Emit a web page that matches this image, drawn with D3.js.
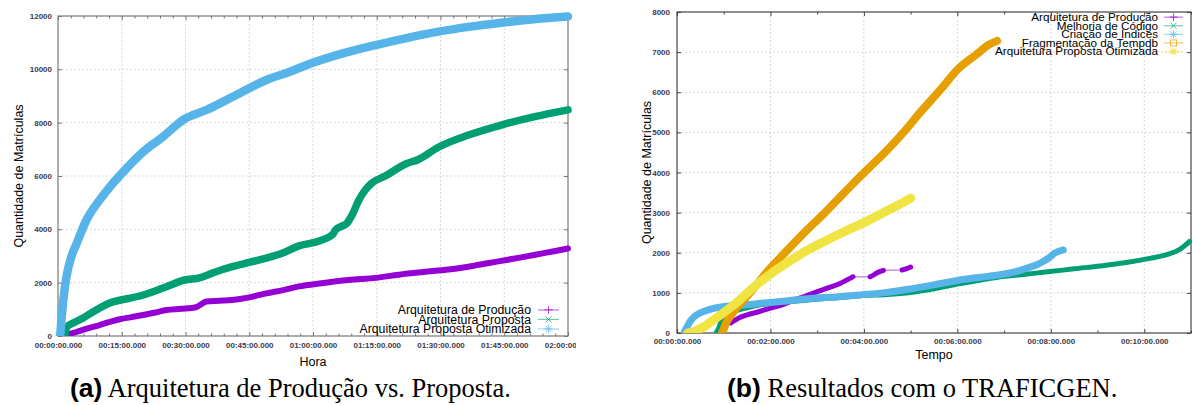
<!DOCTYPE html>
<html><head><meta charset="utf-8">
<script src="https://cdn.jsdelivr.net/npm/d3@7"></script>
<style>body{margin:0;background:#fff}svg{display:block}</style>
</head><body>
<svg id="c" width="1192" height="405"></svg>
<script>
// ---------- Panel (a): time in minutes ----------
const aXTicks = [0, 15, 30, 45, 60, 75, 90, 105, 120];
const aXTickLabels = ["00:00:00.000","00:15:00.000","00:30:00.000","00:45:00.000","01:00:00.000","01:15:00.000","01:30:00.000","01:45:00.000","02:00:00.000"];
const aYTicks = [0, 2000, 4000, 6000, 8000, 10000, 12000];
const aSeriesNames = ["Arquitetura de Produção", "Arquitetura Proposta", "Arquitetura Proposta Otimizada"];
const aProducao = [[1.6,0],[2.5,60],[4.5,160],[7,290],[9.8,412],[12,520],[14.8,637],[17,700],[20,787],[23,880],[25.5,975],[29,1020],[32.5,1080],[34.9,1290],[38,1320],[41,1350],[45,1450],[49,1600],[53,1720],[56.7,1860],[62,1980],[68.4,2100],[74.8,2180],[80.2,2300],[86,2400],[91.9,2490],[98,2640],[103.6,2800],[109,2950],[114,3100],[120,3280]];
const aProposta = [[1.6,0],[2.1,340],[4,520],[5.9,675],[8,880],[9.8,1050],[12,1230],[14.8,1350],[17,1420],[20,1537],[23,1700],[25.5,1850],[29.8,2100],[33.3,2180],[37.2,2412],[41,2600],[45,2760],[49,2920],[52.7,3100],[56.7,3380],[60,3500],[64.5,3790],[65.3,3975],[66.5,4100],[68,4230],[69.2,4540],[70.8,5100],[72.3,5475],[73.9,5740],[77,6000],[81.8,6450],[84.8,6620],[89.5,7080],[96.6,7537],[104.3,7912],[112.2,8225],[120,8480]];
const aOtimizada = [[0.5,0],[1.25,1350],[2,2225],[3,2900],[4.4,3475],[6.7,4350],[9.8,5100],[12.2,5590],[16.2,6300],[20,6900],[24.6,7460],[29.8,8140],[34.9,8475],[41,8960],[49,9600],[54.4,9900],[59.8,10237],[67,10600],[74.8,10912],[82,11170],[89.5,11412],[97,11600],[104.3,11750],[112,11880],[120,11980]];

// ---------- Panel (b): time in seconds ----------
const bXTicks = [0, 120, 240, 360, 480, 600];
const bXTickLabels = ["00:00:00.000","00:02:00.000","00:04:00.000","00:06:00.000","00:08:00.000","00:10:00.000"];
const bYTicks = [0, 1000, 2000, 3000, 4000, 5000, 6000, 7000, 8000];
const bSeriesNames = ["Arquitetura de Produção", "Melhoria de Código", "Criação de Índices", "Fragmentação da Tempdb", "Arquitetura Proposta Otimizada"];
const bProducao = [[69,250],[80,380],[90,450],[105,530],[120,620],[135,700],[150,820],[165,920],[180,1030],[195,1130],[210,1240],[218,1320],[226,1400],[248,1400],[251,1430],[256,1490],[262,1540],[265,1560],[289,1570],[294,1600],[300,1640]];
const bMelhoria = [[50,0],[53,100],[56,250],[63,400],[70,500],[78,570],[90,630],[107,700],[140,770],[172,830],[205,880],[236,930],[270,960],[300,1010],[330,1100],[360,1220],[390,1320],[415,1400],[450,1470],[479,1530],[510,1600],[543,1670],[575,1750],[607,1860],[630,1960],[645,2080],[658,2280]];
const bCriacao = [[9,0],[12,120],[18,320],[25,450],[35,540],[48,620],[65,670],[80,690],[108,740],[140,800],[172,860],[205,900],[236,950],[265,1000],[300,1100],[330,1200],[360,1310],[390,1390],[415,1450],[435,1530],[450,1620],[462,1700],[470,1780],[478,1880],[485,1990],[496,2070]];
const bFragmentacao = [[58,0],[60,100],[63,250],[67,380],[71,490],[80,700],[100,1150],[114,1490],[140,2030],[167,2570],[190,3000],[206,3320],[225,3700],[240,3990],[270,4560],[290,4980],[312,5490],[340,6100],[360,6560],[385,6950],[400,7180],[411,7280]];
const bOtimizada = [[14,0],[22,40],[35,160],[45,300],[56,450],[67,610],[78,780],[99,1150],[120,1470],[142,1760],[160,1980],[184,2230],[210,2480],[240,2750],[270,3050],[290,3250],[300,3360]];

const svg = d3.select('#c');
svg.append('rect').attr('width',1192).attr('height',405).attr('fill','#fff');

const COL = {purple:'#9400d3', green:'#009e73', blue:'#56b4e9', orange:'#e69f00', yellow:'#f0e442'};
const TICKFONT = {family:'Liberation Sans, Arial, sans-serif', size:'8px', weight:'bold', fill:'#3a3a4c'};

function marker(g, type, color, cx, cy) {
  const p = g.append('g').attr('transform', `translate(${cx},${cy})`);
  if (type === 'plus') p.append('path').attr('d','M-4,0H4M0,-4V4').attr('stroke',color).attr('stroke-width',1);
  if (type === 'cross') p.append('path').attr('d','M-3,-3L3,3M-3,3L3,-3').attr('stroke',color).attr('stroke-width',1);
  if (type === 'star') p.append('path').attr('d','M-4,0H4M0,-4V4M-3,-3L3,3M-3,3L3,-3').attr('stroke',color).attr('stroke-width',1);
  if (type === 'square') p.append('rect').attr('x',-3).attr('y',-3).attr('width',6).attr('height',6).attr('fill','none').attr('stroke',color).attr('stroke-width',1);
  if (type === 'fsquare') p.append('rect').attr('x',-3).attr('y',-3).attr('width',6).attr('height',6).attr('fill',color);
}

function panel(o) {
  const g = svg.append('g');
  const x = d3.scaleLinear().domain(o.xDomain).range([o.x0, o.x1]);
  const y = d3.scaleLinear().domain(o.yDomain).range([o.y1, o.y0]);

  // grid
  g.append('g').selectAll('line').data(o.xTicks.filter(v => x(v) > o.x0 + 1 && x(v) < o.x1 - 1)).join('line')
    .attr('x1', d => x(d)).attr('x2', d => x(d)).attr('y1', o.y0).attr('y2', o.y1)
    .attr('stroke', '#d8d8d8').attr('stroke-dasharray', '2,2').attr('stroke-width', 1);
  g.append('g').selectAll('line').data(o.yTicks.filter(v => y(v) > o.y0 + 1 && y(v) < o.y1 - 1)).join('line')
    .attr('y1', d => y(d)).attr('y2', d => y(d)).attr('x1', o.x0).attr('x2', o.x1)
    .attr('stroke', '#d8d8d8').attr('stroke-dasharray', '2,2').attr('stroke-width', 1);

  // ticks (inward, mirrored)
  const tickAxes = [
    [d3.axisBottom(x).tickValues(o.xTicks).tickSize(-4), `translate(0,${o.y1})`],
    [d3.axisTop(x).tickValues(o.xTicks).tickSize(-4), `translate(0,${o.y0})`],
    [d3.axisBottom(x).tickValues(o.xMinor).tickSize(-2.5), `translate(0,${o.y1})`],
    [d3.axisTop(x).tickValues(o.xMinor).tickSize(-2.5), `translate(0,${o.y0})`],
    [d3.axisLeft(y).tickValues(o.yTicks).tickSize(-4), `translate(${o.x0},0)`],
    [d3.axisRight(y).tickValues(o.yTicks).tickSize(-4), `translate(${o.x1},0)`]
  ];
  tickAxes.forEach(([ax, tr]) => {
    const a = g.append('g').attr('transform', tr).call(ax.tickFormat(''));
    a.select('.domain').remove();
    a.selectAll('line').attr('stroke', o.axisColor);
  });

  // tick labels
  const xl = g.append('g').attr('transform', `translate(0,${o.y1})`)
    .call(d3.axisBottom(x).tickValues(o.xTicks).tickSize(0).tickPadding(o.xPad).tickFormat((d, i) => o.xLabels[i]));
  if (o.clipX) {
    const lid = 'labclip' + o.id;
    svg.append('clipPath').attr('id', lid).append('rect').attr('x', 0).attr('y', -10).attr('width', o.clipX).attr('height', 40);
    xl.attr('clip-path', `url(#${lid})`);
  }
  const yl = g.append('g').attr('transform', `translate(${o.x0},0)`)
    .call(d3.axisLeft(y).tickValues(o.yTicks).tickSize(0).tickPadding(o.yPad).tickFormat(d3.format('d')));
  [xl, yl].forEach(a => {
    a.select('.domain').remove();
    a.attr('font-family', null).attr('font-size', null);
    a.selectAll('text').attr('font-family', TICKFONT.family).attr('font-size', TICKFONT.size)
      .attr('font-weight', TICKFONT.weight).attr('fill', TICKFONT.fill);
  });

  // border
  g.append('rect').attr('x', o.x0).attr('y', o.y0).attr('width', o.x1 - o.x0).attr('height', o.y1 - o.y0)
    .attr('fill', 'none').attr('stroke', o.axisColor).attr('stroke-width', 1.2);

  // series
  const clipId = 'serclip' + o.id;
  svg.append('clipPath').attr('id', clipId).append('rect')
    .attr('x', o.x0 - 6).attr('y', o.y0 - 6).attr('width', o.x1 - o.x0 + 12).attr('height', o.y1 - o.y0 + 6);
  const sg = g.append('g').attr('clip-path', `url(#${clipId})`);
  const line = d3.line().x(d => x(d[0])).y(d => y(d[1])).curve(d3.curveMonotoneX);
  o.series.forEach(s => {
    if (s.gap) {
      sg.append('path').attr('d', line(s.data)).attr('fill', 'none').attr('stroke', s.color)
        .attr('stroke-opacity', 0.55).attr('stroke-width', 1.2);
      let seg = [s.data[0]];
      const segs = [];
      for (let i = 1; i < s.data.length; i++) {
        if (s.data[i][0] - s.data[i - 1][0] > s.gap) { segs.push(seg); seg = [s.data[i]]; }
        else seg.push(s.data[i]);
      }
      segs.push(seg);
      segs.forEach(sgm => {
        sg.append('path').attr('d', sgm.length > 1 ? line(sgm) : `M${x(sgm[0][0])},${y(sgm[0][1])}l0,0`)
          .attr('fill', 'none').attr('stroke', s.color).attr('stroke-width', s.width)
          .attr('stroke-linecap', 'round').attr('stroke-linejoin', 'round');
      });
    } else {
      sg.append('path').attr('d', line(s.data)).attr('fill', 'none').attr('stroke', s.color)
        .attr('stroke-width', s.width).attr('stroke-linecap', 'round').attr('stroke-linejoin', 'round');
    }
  });

  // legend
  const lg = g.append('g');
  o.series.forEach((s, i) => {
    const yy = o.legY + i * o.legStep;
    lg.append('text').attr('x', o.legX).attr('y', yy).attr('text-anchor', 'end')
      .attr('font-family', 'Liberation Sans, Arial, sans-serif').attr('font-size', o.legSize).attr('fill', '#000')
      .text(s.name);
    const ly = yy - o.legSize * 0.33;
    lg.append('line').attr('x1', o.legX + o.sampleGap).attr('x2', o.legX + o.sampleGap + o.sampleLen)
      .attr('y1', ly).attr('y2', ly).attr('stroke', s.color).attr('stroke-opacity', 0.55).attr('stroke-width', 1.2);
    marker(lg.append('g').attr('opacity', 0.7), s.marker, s.color, o.legX + o.sampleGap + o.sampleLen / 2, ly);
  });

  // axis titles
  g.append('text').attr('transform', `translate(${o.yTitleX},${(o.y0 + o.y1) / 2}) rotate(-90)`)
    .attr('text-anchor', 'middle').attr('font-family', 'Liberation Sans, Arial, sans-serif')
    .attr('font-size', '12.5px').attr('fill', '#000').text(o.yTitle);
  g.append('text').attr('x', (o.x0 + o.x1) / 2).attr('y', o.xTitleY)
    .attr('text-anchor', 'middle').attr('font-family', 'Liberation Sans, Arial, sans-serif')
    .attr('font-size', '12.5px').attr('fill', '#000').text(o.xTitle);

  // caption
  const cap = g.append('text').attr('x', o.capX).attr('y', 397).attr('font-size', '26.5px').attr('fill', '#000');
  cap.append('tspan').attr('font-family', 'Liberation Sans, Arial, sans-serif').attr('font-weight', 'bold').text(o.capTag);
  cap.append('tspan').attr('font-family', 'Liberation Serif, Times New Roman, serif').text(' ' + o.capText);
}

panel({
  id: 'A', x0: 58, x1: 568, y0: 16, y1: 336,
  xDomain: [0, 120], yDomain: [0, 12000],
  xTicks: aXTicks, xLabels: aXTickLabels, yTicks: aYTicks,
  xMinor: d3.range(0, 121, 3).filter(v => v % 15 !== 0),
  xPad: 6.3, yPad: 6, clipX: 576, axisColor: '#777',
  series: [
    {name: aSeriesNames[0], data: aProducao, color: COL.purple, width: 6, marker: 'plus'},
    {name: aSeriesNames[1], data: aProposta, color: COL.green, width: 7.5, marker: 'cross'},
    {name: aSeriesNames[2], data: aOtimizada, color: COL.blue, width: 8.5, marker: 'star'}
  ],
  legX: 531, legY: 314, legStep: 9.5, legSize: 12.3, sampleGap: 7, sampleLen: 21,
  yTitle: 'Quantidade de Matrículas', yTitleX: 23, xTitle: 'Hora', xTitleY: 366,
  capX: 70, capTag: '(a)', capText: 'Arquitetura de Produção vs. Proposta.'
});

panel({
  id: 'B', x0: 677, x1: 1191, y0: 12, y1: 333,
  xDomain: [0, 660], yDomain: [0, 8000],
  xTicks: bXTicks, xLabels: bXTickLabels, yTicks: bYTicks,
  xMinor: d3.range(60, 661, 120),
  xPad: 5.3, yPad: 7, clipX: null, axisColor: '#444',
  series: [
    {name: bSeriesNames[0], data: bProducao, color: COL.purple, width: 5, marker: 'plus', gap: 15},
    {name: bSeriesNames[1], data: bMelhoria, color: COL.green, width: 5, marker: 'cross'},
    {name: bSeriesNames[2], data: bCriacao, color: COL.blue, width: 7, marker: 'star'},
    {name: bSeriesNames[3], data: bFragmentacao, color: COL.orange, width: 8, marker: 'square'},
    {name: bSeriesNames[4], data: bOtimizada, color: COL.yellow, width: 9, marker: 'fsquare'}
  ],
  legX: 1158, legY: 21, legStep: 8.6, legSize: 11.7, sampleGap: 6, sampleLen: 19,
  yTitle: 'Quantidade de Matrículas', yTitleX: 651, xTitle: 'Tempo', xTitleY: 359,
  capX: 727, capTag: '(b)', capText: 'Resultados com o TRAFICGEN.'
});
</script>
</body></html>
